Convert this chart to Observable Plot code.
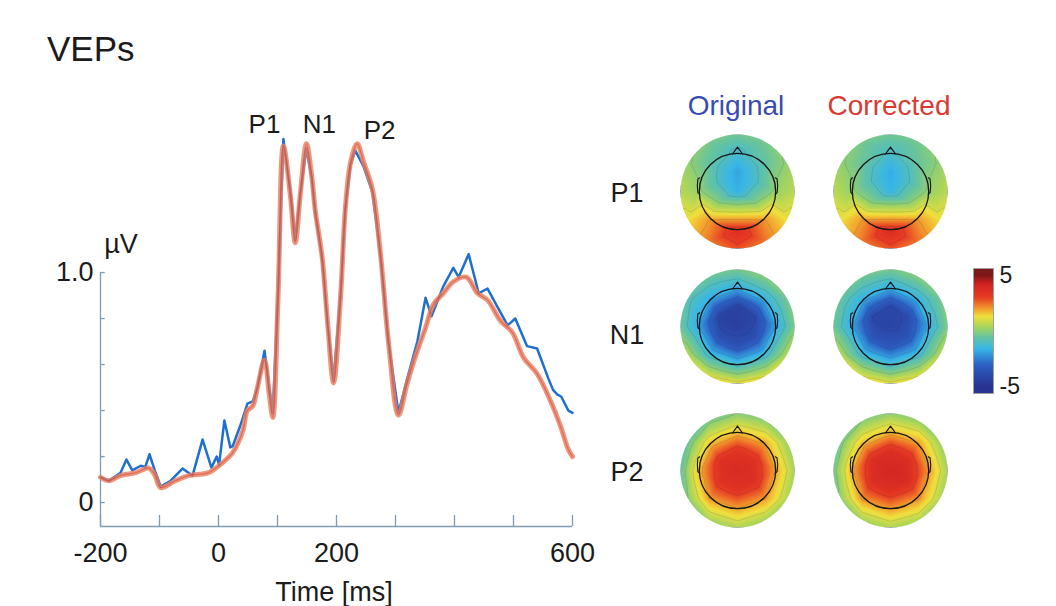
<!DOCTYPE html>
<html>
<head>
<meta charset="utf-8">
<script src="https://cdn.jsdelivr.net/npm/d3@7"></script>
<script src="https://cdn.jsdelivr.net/npm/@observablehq/plot@0.6"></script>
<style>
  body { margin: 0; background: #ffffff; }
  #fig { position: relative; width: 1056px; height: 606px; overflow: hidden; background: #ffffff;
         font-family: "Liberation Sans", Arial, Helvetica, sans-serif; }
  .lbl { position: absolute; line-height: 1; white-space: nowrap; color: #1b1b1b; }
  #fig svg { position: absolute; }
</style>
</head>
<body>
<div id="fig"></div>
<script>
// ---------------- DATA ----------------
// VEP time courses (ms, µV)
const origTime  = [-200,-186,-166,-156,-146,-132,-124,-117,-108,-98,-81,-61,-44,-27,-12,-3,1,10,20,24,37,49,58,66,78,86,92,101,110,122,130,139,149,158,164,176,185,195,207,215,224,232,246,261,275,288,305,320,337,351,361,381,398,407,424,441,456,473,490,503,523,540,559,567,574,581,593,600];
const origValue = [0.11,0.095,0.13,0.187,0.14,0.16,0.155,0.21,0.14,0.07,0.095,0.148,0.117,0.274,0.152,0.2,0.165,0.357,0.24,0.245,0.335,0.43,0.44,0.50,0.66,0.50,0.39,0.92,1.58,1.35,1.14,1.35,1.54,1.41,1.26,1.05,0.77,0.53,0.91,1.28,1.47,1.53,1.46,1.35,1.06,0.70,0.39,0.54,0.70,0.89,0.81,0.94,1.02,0.98,1.08,0.91,0.93,0.85,0.77,0.80,0.68,0.67,0.54,0.49,0.47,0.46,0.40,0.39];
const corrTime  = [-200,-186,-166,-140,-118,-108,-98,-73,-51,-17,7,24,41,49,58,66,78,86,92,101,110,122,130,139,149,158,164,176,185,195,207,215,224,235,246,261,275,288,305,320,337,351,364,381,398,420,439,456,478,498,517,540,563,580,593,600];
const corrValue = [0.11,0.095,0.117,0.13,0.15,0.12,0.065,0.095,0.117,0.13,0.174,0.217,0.31,0.40,0.42,0.50,0.62,0.47,0.37,0.90,1.55,1.33,1.13,1.35,1.56,1.42,1.27,1.06,0.78,0.52,0.90,1.28,1.48,1.56,1.48,1.36,1.07,0.70,0.38,0.52,0.66,0.76,0.86,0.91,0.96,0.98,0.91,0.88,0.79,0.74,0.63,0.56,0.44,0.33,0.23,0.20];

// axes
const xTicks = [-200,-100,0,100,200,300,400,500,600];
const xLabelTicks = [-200,0,200,600];
const xLabelTexts = ["-200","0","200","600"];
const yTicks = [0,0.2,0.4,0.6,0.8,1.0];
const yLabelTicks = [0,1];
const yLabelTexts = ["0","1.0"];
const yBottom = -0.104;

// peak annotations
const peakNames = ["P1","N1","P2"];
const peakTime = [78,171,273];
const peakLabelValue = [1.643,1.643,1.617];

// topography electrode layout (radius 0..1, angle degrees clockwise from nose)
const elecRadius = [0, .35,.35,.35,.35,.35,.35, .7,.7,.7,.7,.7,.7,.7,.7, 1,1,1,1,1,1,1,1,1,1,1,1];
const elecAngle  = [0, 0,60,120,180,240,300, 0,45,90,135,180,225,270,315, 0,30,60,90,120,150,180,210,240,270,300,330];

// topography values (µV) per electrode
const mapP1Original  = [-1.7, -1.9,-1.2,-0.2,0.9,-0.2,-1.2, -1.2,-0.6,0.2,2.0,3.6,2.0,0.2,-0.6, -0.4,-0.3,0.1,0.6,1.3,2.4,2.8,2.4,1.3,0.6,0.1,-0.3];
const mapP1Corrected = [-1.6, -1.8,-1.1,-0.2,0.9,-0.2,-1.1, -1.1,-0.5,0.2,2.0,3.7,2.0,0.2,-0.5, -0.4,-0.3,0.1,0.6,1.3,2.4,2.8,2.4,1.3,0.6,0.1,-0.3];
const mapN1Original  = [-4.4, -4.3,-4.1,-3.8,-3.6,-3.8,-4.3, -1.6,-1.5,-1.7,-1.3,-1.0,-1.3,-1.8,-1.7, -0.3,-0.1,-0.3,-0.2,0.5,1.0,1.2,1.0,0.5,-0.5,-0.8,-0.5];
const mapN1Corrected = [-4.2, -4.1,-3.9,-3.6,-3.4,-3.6,-4.1, -1.6,-1.5,-1.6,-1.3,-1.0,-1.3,-1.7,-1.6, -0.3,-0.1,-0.3,-0.2,0.5,1.0,1.2,1.0,0.5,-0.4,-0.6,-0.4];
const mapP2Original  = [3.8, 3.4,3.5,3.6,3.4,3.5,3.5, 1.5,1.8,1.8,2.0,1.8,2.0,1.6,1.5, 0.0,0.1,0.3,0.4,0.5,0.4,0.5,0.4,0.0,-0.6,-0.5,-0.2];
const mapP2Corrected = [4.0, 3.6,3.7,3.8,3.6,3.7,3.7, 1.6,1.9,1.9,2.1,1.9,2.1,1.7,1.6, 0.1,0.2,0.3,0.4,0.5,0.5,0.5,0.4,0.1,-0.3,-0.2,0.0];

const mapRows = ["P1","N1","P2"];
const mapCols = ["Original","Corrected"];
const mapsByRow = [[mapP1Original, mapP1Corrected],[mapN1Original, mapN1Corrected],[mapP2Original, mapP2Corrected]];

// head outline shape (unit = map radius)
const headRatio = 0.67;
const noseX = [-0.085, 0, 0.085];
const noseY = [0.662, 0.78, 0.662];
const earRX = [0.664, 0.695, 0.705, 0.695, 0.664];
const earY  = [0.24, 0.22, 0.10, -0.02, -0.05];

// jet-like colour map
const colorStops  = [-5, -3, -1.6, -0.5, 0.4, 1.3, 2.0, 3.0, 4.2, 5];
const colorColors = ["#283290","#2d60c4","#38b6e8","#68c49c","#a9d55c","#f0e03c","#f29c2c","#e83c24","#d02222","#7c1818"];
const colorbarTicks = [-5, 5];
const colorbarTexts = ["-5", "5"];
const contourLevels = [-4,-3,-2,-1,0,1,2,3,4];

// ---------------- DRAW ----------------
const FONT = '"Liberation Sans", Arial, Helvetica, sans-serif';
const INK = "#1b1b1b";
const AXIS = "#7f9cb2";
const fig = document.getElementById("fig");
const colorScale = {type: "linear", domain: colorStops, range: colorColors, clamp: true};

function place(svg, left, top) {
  svg.style.left = left + "px";
  svg.style.top = top + "px";
  fig.appendChild(svg);
}
function label(text, x, y, size, color, anchor) {
  const d = document.createElement("div");
  d.className = "lbl";
  d.textContent = text;
  d.style.left = x + "px";
  d.style.top = y + "px";
  d.style.fontSize = size + "px";
  if (color) d.style.color = color;
  d.style.transform = anchor === "start" ? "translate(0,-50%)" : "translate(-50%,-50%)";
  fig.appendChild(d);
}

// ---- VEP line chart ----
const orig = origTime.map((t, i) => ({t, v: origValue[i]}));
const corr = corrTime.map((t, i) => ({t, v: corrValue[i]}));
const peaks = peakNames.map((name, i) => ({name, t: peakTime[i], v: peakLabelValue[i]}));

const chart = Plot.plot({
  width: 620, height: 606,
  marginLeft: 100, marginRight: 48, marginTop: 99.5, marginBottom: 80,
  x: {domain: [-200, 600]},
  y: {domain: [yBottom, 1.75]},
  style: {fontFamily: FONT, color: INK, background: "transparent", overflow: "visible"},
  marks: [
    Plot.ruleY([yBottom], {x1: -200, x2: 600, stroke: AXIS, strokeWidth: 1.3}),
    Plot.ruleX([-200], {y1: yBottom, y2: 1.0, stroke: AXIS, strokeWidth: 1.3}),
    Plot.ruleX(xTicks, {y1: yBottom, y2: yBottom + 0.048, stroke: AXIS, strokeWidth: 1.3}),
    Plot.ruleY(yTicks, {x1: -200, x2: -192, stroke: AXIS, strokeWidth: 1.3}),
    Plot.axisX({ticks: xLabelTicks, tickFormat: d => xLabelTexts[xLabelTicks.indexOf(d)], tickSize: 0, tickPadding: 16, fontSize: 27, label: null}),
    Plot.axisY({ticks: yLabelTicks, tickFormat: d => yLabelTexts[yLabelTicks.indexOf(d)], tickSize: 0, tickPadding: 7, fontSize: 27, label: null}),
    Plot.line(orig, {x: "t", y: "v", stroke: "#1f6fcf", strokeWidth: 2.5}),
    Plot.line(corr, {x: "t", y: "v", stroke: "#e8805f", strokeWidth: 5, strokeOpacity: 0.8, curve: "catmull-rom"}),
    Plot.line(corr, {x: "t", y: "v", stroke: "#d22a22", strokeWidth: 1.4, strokeOpacity: 0.4, curve: "catmull-rom"}),
    Plot.text(peaks, {x: "t", y: "v", text: "name", fontSize: 26, fill: INK})
  ]
});
place(chart, 0, 0);

// ---- topographic maps ----
const mapRadiusPx = 57;
const mapCenterX = [737, 890];
const mapCenterY = [191, 326, 470];

function topomap(values, id) {
  const pts = [];
  elecRadius.forEach((r, i) => {
    const a = elecAngle[i] * Math.PI / 180;
    pts.push({x: r * Math.sin(a), y: r * Math.cos(a), v: values[i]});
    if (r === 1) pts.push({x: 1.25 * Math.sin(a), y: 1.25 * Math.cos(a), v: values[i]});
  });
  const nose = noseX.map((x, i) => ({x, y: noseY[i]}));
  const earR = earRX.map((x, i) => ({x, y: earY[i]}));
  const earL = earRX.map((x, i) => ({x: -x, y: earY[i]}));
  const size = 2 * mapRadiusPx;
  const ext = {x1: -1, x2: 1, y1: -1, y2: 1};
  const p = Plot.plot({
    width: size, height: size, margin: 0,
    x: {domain: [-1, 1], axis: null},
    y: {domain: [-1, 1], axis: null},
    color: colorScale,
    style: {background: "transparent", overflow: "visible"},
    marks: [
      Plot.raster(pts, {x: "x", y: "y", fill: "v", interpolate: "barycentric", ...ext}),
      Plot.contour(pts, {x: "x", y: "y", value: "v", interpolate: "barycentric", thresholds: contourLevels,
                         fill: "none", stroke: "#1d3040", strokeOpacity: 0.18, strokeWidth: 0.8, ...ext}),
      Plot.dot([0], {x: 0, y: 0, r: headRatio * mapRadiusPx, stroke: "#161616", strokeWidth: 1.3, fill: "none"}),
      Plot.line(nose, {x: "x", y: "y", stroke: "#161616", strokeWidth: 1.2}),
      Plot.line(earR, {x: "x", y: "y", stroke: "#161616", strokeWidth: 1.1}),
      Plot.line(earL, {x: "x", y: "y", stroke: "#161616", strokeWidth: 1.1})
    ]
  });
  // circular clip of the scalp map
  const ns = "http://www.w3.org/2000/svg";
  const sx = p.scale("x"), sy = p.scale("y");
  const defs = document.createElementNS(ns, "defs");
  const cp = document.createElementNS(ns, "clipPath");
  cp.setAttribute("id", id);
  const c = document.createElementNS(ns, "circle");
  c.setAttribute("cx", sx.apply(0));
  c.setAttribute("cy", sy.apply(0));
  c.setAttribute("r", sx.apply(1) - sx.apply(0));
  cp.appendChild(c);
  defs.appendChild(cp);
  p.insertBefore(defs, p.firstChild);
  p.querySelectorAll('g[aria-label="raster"], g[aria-label="contour"]').forEach(g => g.setAttribute("clip-path", `url(#${id})`));
  return p;
}

mapsByRow.forEach((row, ri) => {
  row.forEach((vals, ci) => {
    const svg = topomap(vals, `clip-${ri}-${ci}`);
    place(svg, mapCenterX[ci] - mapRadiusPx, mapCenterY[ri] - mapRadiusPx);
  });
});

// ---- colour bar ----
const cbar = Plot.plot({
  width: 60, height: 125,
  marginLeft: 0, marginRight: 40, marginTop: 0, marginBottom: 0,
  x: {domain: [0, 1], axis: null},
  y: {domain: [-5.6, 5.6]},
  color: colorScale,
  style: {fontFamily: FONT, color: INK, background: "transparent", overflow: "visible"},
  marks: [
    Plot.raster({fill: (x, y) => y, x1: 0, x2: 1, y1: -5.6, y2: 5.6, pixelSize: 1}),
    Plot.frame({stroke: "#a0a0a0", strokeWidth: 1}),
    Plot.axisY({anchor: "right", ticks: colorbarTicks, tickFormat: d => colorbarTexts[colorbarTicks.indexOf(d)], tickSize: 0, tickPadding: 6, fontSize: 23, label: null})
  ]
});
place(cbar, 973, 268);

// ---- texts ----
label("VEPs", 47, 48, 35, INK, "start");
label("\u00b5V", 121, 244, 27, INK);
label("Time [ms]", 334, 592, 27, INK);
label(mapCols[0], 736, 106, 28, "#3a4bb0");
label(mapCols[1], 889, 106, 28, "#d93a32");
const rowLabelY = [193, 335, 472];
mapRows.forEach((r, i) => label(r, 627, rowLabelY[i], 27, INK));
</script>
</body>
</html>
